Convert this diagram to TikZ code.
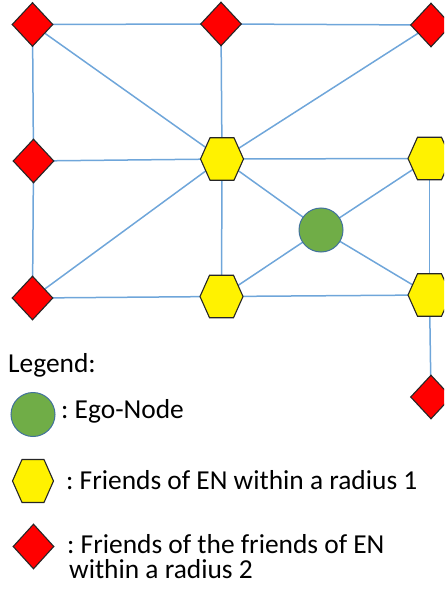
\documentclass[tikz,border=0pt]{standalone}
\usepackage{fontspec}
\setmainfont{Carlito}
\usetikzlibrary{shapes.geometric,backgrounds}
\definecolor{edgeblue}{HTML}{6FA6DA}
\definecolor{egogreen}{HTML}{70AD47}
\definecolor{egoline}{HTML}{41719C}
\definecolor{outline}{HTML}{262626}
\tikzset{
  link/.style={draw=edgeblue, line width=1.5pt},
  fofnode/.style={diamond, fill=red, draw=outline, line width=1.1pt,
    minimum width=41pt, minimum height=44pt, inner sep=0pt, aspect=1},
  % flat-topped hexagon filling the node's bounding rectangle
  friendnode/.style={rectangle, minimum width=43pt, minimum height=42.5pt,
    inner sep=0pt, outer sep=0pt,
    append after command={\pgfextra{%
      \filldraw[fill=yellow, draw=outline, line width=1.1pt, line join=miter]
        (\tikzlastnode.west)
        -- ([xshift=9.5pt]\tikzlastnode.north west)
        -- ([xshift=-9.5pt]\tikzlastnode.north east)
        -- (\tikzlastnode.east)
        -- ([xshift=-9.5pt]\tikzlastnode.south east)
        -- ([xshift=9.5pt]\tikzlastnode.south west)
        -- cycle;}}},
  egonode/.style={circle, fill=egogreen, draw=egoline, line width=1pt,
    minimum size=44pt, inner sep=0pt},
  legendtext/.style={anchor=base west, inner sep=0pt,
    font=\fontsize{27.4pt}{32pt}\selectfont\frenchspacing}
}
\begin{document}
\begin{tikzpicture}[x=1pt, y=-1pt]
\clip (0,0) rectangle (444,596);
% graph nodes
\node[fofnode] (d1) at (32.5,24.5) {};
\node[fofnode] (d2) at (221,24) {};
\node[fofnode] (d3) at (431,25) {};
\node[fofnode] (d4) at (33.5,161) {};
\node[fofnode] (d5) at (32.5,298) {};
\node[fofnode] (d6) at (431,397) {};
\node[friendnode] (h1) at (222,159) {};
\node[friendnode] (h2) at (429.5,158.5) {};
\node[friendnode] (h3) at (221.5,296.5) {};
\node[friendnode] (h4) at (429.5,295) {};
\node[egonode] (ego) at (321,230) {};
% connections, drawn behind the nodes
\begin{pgfonlayer}{background}
\foreach \a/\b in {d1/d2, d2/d3, d1/d4, d4/d5, d1/h1, d2/h1, d3/h1, d4/h1,
                   h1/h2, d5/h1, h1/h3, h1/ego, ego/h2, ego/h3, ego/h4,
                   h2/h4, d5/h3, h3/h4, h4/d6}
  \draw[link] (\a.center) -- (\b.center);
\end{pgfonlayer}
% legend
\node[legendtext] (lg) at (8,372) {Legend:};
\node[egonode] (lego) at (33,414.5) {};
\node[legendtext] (lgego) at (61,418.5) {: Ego-Node};
\node[friendnode, minimum width=41pt, minimum height=43pt] (lhex) at (33,481) {};
\node[legendtext] (lghex) at (66,489) {: Friends of EN within a radius 1};
\node[fofnode, minimum height=45pt, minimum width=41pt] (ldia) at (33.5,546.5) {};
\node[legendtext] (lgdia1) at (67,553.5) {: Friends of the friends of EN};
\node[legendtext] (lgdia2) at (69,578.5) {within a radius 2};
\end{tikzpicture}
\end{document}
